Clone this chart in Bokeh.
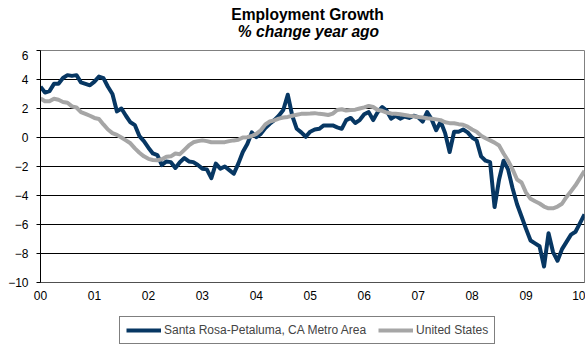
from bokeh.plotting import figure
from bokeh.models import Range1d, FixedTicker, Legend, LegendItem, Label, ColumnDataSource
from bokeh.layouts import column
from bokeh.embed import file_html
from bokeh.resources import INLINE

# Monthly data, Jan 2000 - Feb 2010 (% change year ago)
months = list(range(122))
santa_rosa = [
    3.5, 3.1, 3.2, 3.7, 3.7, 4.1, 4.3, 4.25, 4.3, 3.8, 3.7, 3.6,
    3.85, 4.2, 4.1, 3.5, 3.0, 1.8, 2.0, 1.5, 1.05, 0.85, 0.1, -0.25,
    -0.7, -1.1, -1.22, -1.9, -1.65, -1.7, -2.1, -1.7, -1.42, -1.65, -1.7, -1.9,
    -2.15, -2.2, -2.8, -1.8, -2.15, -2.0, -2.25, -2.5, -1.8, -1.0, -0.45, 0.35,
    0.02, 0.25, 0.65, 0.95, 1.2, 1.5, 1.9, 2.95, 1.5, 0.6, 0.35, 0.05,
    0.4, 0.55, 0.6, 0.83, 0.83, 0.83, 0.7, 0.6, 1.2, 1.35, 1.0, 1.2,
    1.6, 1.75, 1.2, 1.75, 2.1, 1.85, 1.3, 1.5, 1.3, 1.45, 1.35, 1.5,
    1.4, 1.1, 1.75, 1.25, 0.5, 1.1, 0.3, -1.0, 0.4, 0.4, 0.55, 0.35,
    0.0, -0.2, -1.3, -1.6, -1.7, -4.8, -2.9, -1.6, -2.2, -3.5, -4.6, -5.45,
    -6.3, -7.1, -7.3, -7.5, -8.9, -6.6, -7.9, -8.5, -7.7, -7.2, -6.7, -6.5,
    -5.9, -5.3,
]
united_states = [
    2.7, 2.5, 2.5, 2.67, 2.6, 2.45, 2.4, 2.15, 2.07, 1.75, 1.63, 1.5,
    1.35, 1.28, 0.9, 0.55, 0.3, 0.18, 0.0, -0.2, -0.4, -0.75, -1.05, -1.3,
    -1.47, -1.55, -1.57, -1.5, -1.33, -1.3, -1.1, -1.15, -0.85, -0.55, -0.33, -0.25,
    -0.2, -0.25, -0.33, -0.33, -0.33, -0.32, -0.25, -0.2, -0.16, 0.0, 0.02, 0.1,
    0.25, 0.5, 0.9, 1.1, 1.18, 1.3, 1.38, 1.42, 1.5, 1.57, 1.63, 1.63,
    1.65, 1.68, 1.63, 1.6, 1.55, 1.65, 1.9, 1.95, 1.86, 1.9, 1.92, 2.0,
    2.08, 2.18, 2.1, 1.9, 1.84, 1.72, 1.65, 1.63, 1.6, 1.55, 1.5, 1.47,
    1.42, 1.38, 1.33, 1.29, 1.25, 1.2, 1.05, 0.99, 0.98, 0.92, 0.88, 0.75,
    0.55, 0.4, 0.12, -0.05, -0.2, -0.35, -0.55, -1.1, -1.6, -2.2, -2.9, -3.1,
    -3.8, -4.23, -4.4, -4.55, -4.76, -4.88, -4.88, -4.76, -4.57, -4.1, -3.7, -3.3,
    -2.8, -2.3,
]
year_ticks = [0, 12, 24, 36, 48, 60, 72, 84, 96, 108, 120]
year_labels = ["00", "01", "02", "03", "04", "05", "06", "07", "08", "09", "10"]
y_ticks = [-10, -8, -6, -4, -2, 0, 2, 4, 6]
series_names = ["Santa Rosa-Petaluma, CA Metro Area", "United States"]
title_text = "Employment Growth"
subtitle_text = "% change year ago"

FONT = "Liberation Sans"
NAVY = "#073763"
GRAY = "#a6a6a6"


def bare(height):
    f = figure(width=585, height=height, output_backend="svg", toolbar_location=None,
               x_range=Range1d(0, 1), y_range=Range1d(0, 1),
               x_axis_type=None, y_axis_type=None,
               min_border_left=0, min_border_right=0, min_border_top=0, min_border_bottom=0)
    f.outline_line_color = None
    f.xgrid.visible = False
    f.ygrid.visible = False
    f.background_fill_color = "white"
    f.border_fill_color = "white"
    return f


# ---- header with the two title lines (frame is aligned with the chart's frame) ----
head = bare(50)
head.add_layout(Label(x=267, y=36.5, x_units="screen", y_units="screen", text=title_text,
                      text_align="center", text_baseline="alphabetic", text_font=FONT,
                      text_font_size="15.6px", text_font_style="bold", text_color="black"))
head.add_layout(Label(x=268, y=19.5, x_units="screen", y_units="screen", text=subtitle_text,
                      text_align="center", text_baseline="alphabetic", text_font=FONT,
                      text_font_size="15.6px", text_font_style="bold italic", text_color="black"))

# ---- main chart ----
src = ColumnDataSource(dict(m=months, sr=santa_rosa, us=united_states))
p = figure(width=585, height=262, output_backend="svg", toolbar_location=None,
           x_range=Range1d(0, 121), y_range=Range1d(-10, 6),
           min_border_left=40, min_border_right=1, min_border_top=0,
           min_border_bottom=30)
p.background_fill_color = "white"
p.border_fill_color = "white"
p.outline_line_color = "#808080"
p.outline_line_width = 1

p.xgrid.grid_line_color = None
p.ygrid.grid_line_color = "#000000"
p.ygrid.grid_line_width = 1
p.ygrid.ticker = FixedTicker(ticks=y_ticks)

p.yaxis.ticker = FixedTicker(ticks=y_ticks)
p.yaxis.axis_line_color = "black"
p.yaxis.major_tick_line_color = "black"
p.yaxis.major_tick_out = 4
p.yaxis.major_tick_in = 0
p.yaxis.minor_tick_line_color = None
p.yaxis.major_label_standoff = 8
p.yaxis.major_label_text_font = FONT
p.yaxis.major_label_text_font_size = "12px"
p.yaxis.major_label_text_color = "black"

p.xaxis.ticker = FixedTicker(ticks=year_ticks)
p.xaxis.major_label_overrides = {t: l for t, l in zip(year_ticks, year_labels)}
p.xaxis.axis_line_color = "#505050"
p.xaxis.major_tick_line_color = None
p.xaxis.major_tick_out = 0
p.xaxis.major_tick_in = 0
p.xaxis.minor_tick_line_color = None
p.xaxis.major_label_standoff = 8
p.xaxis.major_label_text_font = FONT
p.xaxis.major_label_text_font_size = "12px"
p.xaxis.major_label_text_color = "black"

p.line("m", "sr", source=src, line_color=NAVY, line_width=4, line_join="round")
p.line("m", "us", source=src, line_color=GRAY, line_width=4, line_join="round")

# ---- footer with the legend (frame aligned with the chart's frame) ----
foot = bare(33)
# legend sample lines: kept off the visible range of this bare panel
g1 = foot.line(x=[-5, -4], y=[-5, -5], line_color=NAVY, line_width=4)
g2 = foot.line(x=[-5, -4], y=[-5, -5], line_color=GRAY, line_width=4)
legend = Legend(items=[LegendItem(label=series_names[0], renderers=[g1]),
                       LegendItem(label=series_names[1], renderers=[g2])],
                orientation="horizontal", location=(79, 1),
                border_line_color="black", border_line_width=1,
                padding=6, spacing=12, glyph_width=35, glyph_height=14,
                label_standoff=3, label_height=14, label_text_font=FONT,
                label_text_font_size="12px", margin=0,
                background_fill_color="white", background_fill_alpha=1)
foot.add_layout(legend)

layout = column(head, p, foot, spacing=0)
open("out.html", "w").write(file_html(layout, INLINE))
